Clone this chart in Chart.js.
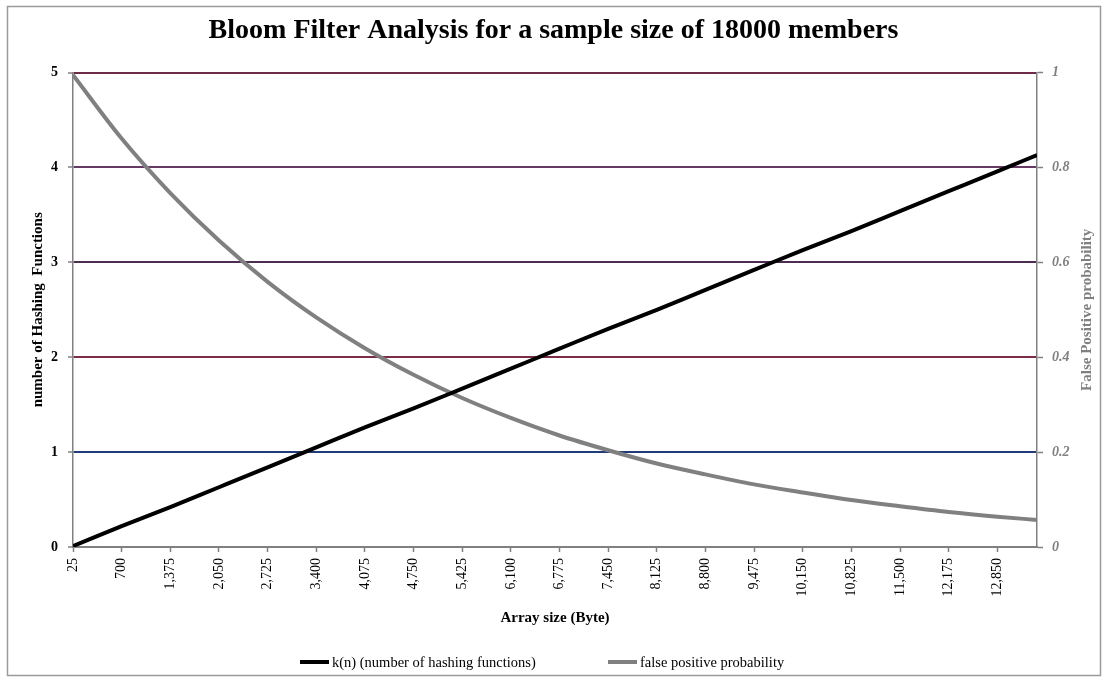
<!DOCTYPE html>
<html>
<head>
<meta charset="utf-8">
<title>Bloom Filter Analysis</title>
<script src="https://cdn.jsdelivr.net/npm/chart.js@4"></script>
<style>
  html, body { margin: 0; padding: 0; background: #ffffff; }
  canvas { display: block; }
</style>
</head>
<body>
<canvas id="chart" width="1107" height="681"></canvas>
<script>
// Array sizes in bytes (sampled along the x axis)
const arraySizes = [25, 700, 1375, 2050, 2725, 3400, 4075, 4750, 5425, 6100, 6775,
  7450, 8125, 8800, 9475, 10150, 10825, 11500, 12175, 12850, 13400];

// k(n): number of hashing functions for each array size
const hashFunctions = [0.01, 0.22, 0.42, 0.63, 0.84, 1.05, 1.26, 1.46, 1.67, 1.88, 2.09,
  2.30, 2.50, 2.71, 2.92, 3.13, 3.33, 3.54, 3.75, 3.96, 4.13];

// false positive probability for each array size
const falsePositive = [0.995, 0.861, 0.746, 0.646, 0.559, 0.484, 0.419, 0.363, 0.314, 0.272, 0.235,
  0.204, 0.176, 0.153, 0.132, 0.115, 0.099, 0.086, 0.074, 0.064, 0.057];

// labelled positions on the x axis
const xTickValues = [25, 700, 1375, 2050, 2725, 3400, 4075, 4750, 5425, 6100, 6775,
  7450, 8125, 8800, 9475, 10150, 10825, 11500, 12175, 12850];

const leftTicks = [0, 1, 2, 3, 4, 5];
const rightTicks = [0, 0.2, 0.4, 0.6, 0.8, 1];

const titleText = 'Bloom Filter Analysis for a sample size of 18000 members';
const xTitle = 'Array size (Byte)';
const leftTitle = 'number of Hashing  Functions';
const rightTitle = 'False Positive probability';
const seriesNames = ['k(n) (number of hashing functions)', 'false positive probability'];

const SERIF = "'Liberation Serif', 'Times New Roman', serif";
const GRAY = '#808080';
const gridColours = ['#808080', '#1f3b78', '#7b2d45', '#4d2b52', '#663a62', '#6e2a48'];

// white page, outer frame, right-hand axis title and the legend
const decorations = {
  id: 'decorations',
  beforeDraw(chart) {
    const ctx = chart.ctx;
    ctx.save();
    ctx.fillStyle = '#ffffff';
    ctx.fillRect(0, 0, chart.width, chart.height);
    ctx.strokeStyle = '#9a9a9a';
    ctx.lineWidth = 1.5;
    ctx.strokeRect(7.5, 6.5, 1093, 669);
    ctx.restore();
  },
  afterDraw(chart) {
    const ctx = chart.ctx;
    const area = chart.chartArea;
    ctx.save();
    // right axis title, reading upwards
    ctx.translate(1087, (area.top + area.bottom) / 2);
    ctx.rotate(-Math.PI / 2);
    ctx.font = 'bold 15px ' + SERIF;
    ctx.fillStyle = GRAY;
    ctx.textAlign = 'center';
    ctx.textBaseline = 'middle';
    ctx.fillText(rightTitle, 0, 0);
    ctx.restore();

    // legend
    const starts = [300, 608];
    const y = 662;
    ctx.save();
    ctx.font = '14.5px ' + SERIF;
    ctx.textBaseline = 'middle';
    ctx.textAlign = 'left';
    chart.data.datasets.forEach((ds, i) => {
      const x = starts[i];
      ctx.strokeStyle = ds.borderColor;
      ctx.lineWidth = 4;
      ctx.beginPath();
      ctx.moveTo(x, y);
      ctx.lineTo(x + 29, y);
      ctx.stroke();
      ctx.fillStyle = '#000000';
      ctx.fillText(ds.label, x + 32, y + 1);
    });
    ctx.restore();
  }
};

new Chart(document.getElementById('chart'), {
  type: 'line',
  data: {
    datasets: [
      {
        label: seriesNames[0],
        data: arraySizes.map((s, i) => ({ x: s, y: hashFunctions[i] })),
        borderColor: '#000000',
        borderWidth: 4,
        pointRadius: 0,
        yAxisID: 'y',
        cubicInterpolationMode: 'monotone'
      },
      {
        label: seriesNames[1],
        data: arraySizes.map((s, i) => ({ x: s, y: falsePositive[i] })),
        borderColor: GRAY,
        borderWidth: 4,
        pointRadius: 0,
        yAxisID: 'y1',
        cubicInterpolationMode: 'monotone'
      }
    ]
  },
  options: {
    responsive: false,
    animation: false,
    devicePixelRatio: 1,
    layout: { padding: { left: 0, right: 0, top: 0, bottom: 41 } },
    plugins: {
      legend: { display: false },
      tooltip: { enabled: false },
      title: {
        display: true,
        text: titleText,
        color: '#000000',
        font: { family: SERIF, size: 28, weight: 'bold' },
        padding: { top: 14, bottom: 25 }
      }
    },
    scales: {
      x: {
        type: 'linear',
        min: arraySizes[0],
        max: arraySizes[arraySizes.length - 1],
        afterBuildTicks(scale) {
          scale.ticks = xTickValues.map(v => ({ value: v }));
        },
        afterFit(scale) { scale.height = 93; },
        ticks: {
          autoSkip: false,
          minRotation: 90,
          maxRotation: 90,
          padding: 6,
          color: '#000000',
          font: { family: SERIF, size: 14 },
          callback: v => Number(v).toLocaleString('en-US')
        },
        grid: { drawOnChartArea: false, drawTicks: true, tickLength: 5, tickColor: GRAY, tickWidth: 1.5 },
        border: { color: GRAY, width: 1.5 },
        title: {
          display: true,
          text: xTitle,
          color: '#000000',
          font: { family: SERIF, size: 15, weight: 'bold' },
          padding: { top: 0, bottom: 13 }
        }
      },
      y: {
        position: 'left',
        min: 0,
        max: 5,
        afterBuildTicks(scale) {
          scale.ticks = leftTicks.map(v => ({ value: v }));
        },
        afterFit(scale) { scale.width = 73; },
        ticks: {
          padding: 10,
          color: '#000000',
          font: { family: SERIF, size: 14, weight: 'bold' }
        },
        grid: {
          color: c => gridColours[c.index] || GRAY,
          lineWidth: 2,
          tickLength: 5,
          tickColor: GRAY,
          tickWidth: 1.5
        },
        border: { color: GRAY, width: 1.5 },
        title: {
          display: true,
          text: leftTitle,
          color: '#000000',
          font: { family: SERIF, size: 15, weight: 'bold' },
          padding: { top: 29, bottom: 0 }
        }
      },
      y1: {
        position: 'right',
        min: 0,
        max: 1,
        afterBuildTicks(scale) {
          scale.ticks = rightTicks.map(v => ({ value: v }));
        },
        afterFit(scale) { scale.width = 70; },
        ticks: {
          padding: 9,
          color: GRAY,
          font: { family: SERIF, size: 14, weight: 'bold', style: 'italic' },
          callback: v => String(v)
        },
        grid: { drawOnChartArea: false, drawTicks: true, tickLength: 6, tickColor: GRAY, tickWidth: 1.5 },
        border: { color: GRAY, width: 1.5 }
      }
    }
  },
  plugins: [decorations]
});
</script>
</body>
</html>
